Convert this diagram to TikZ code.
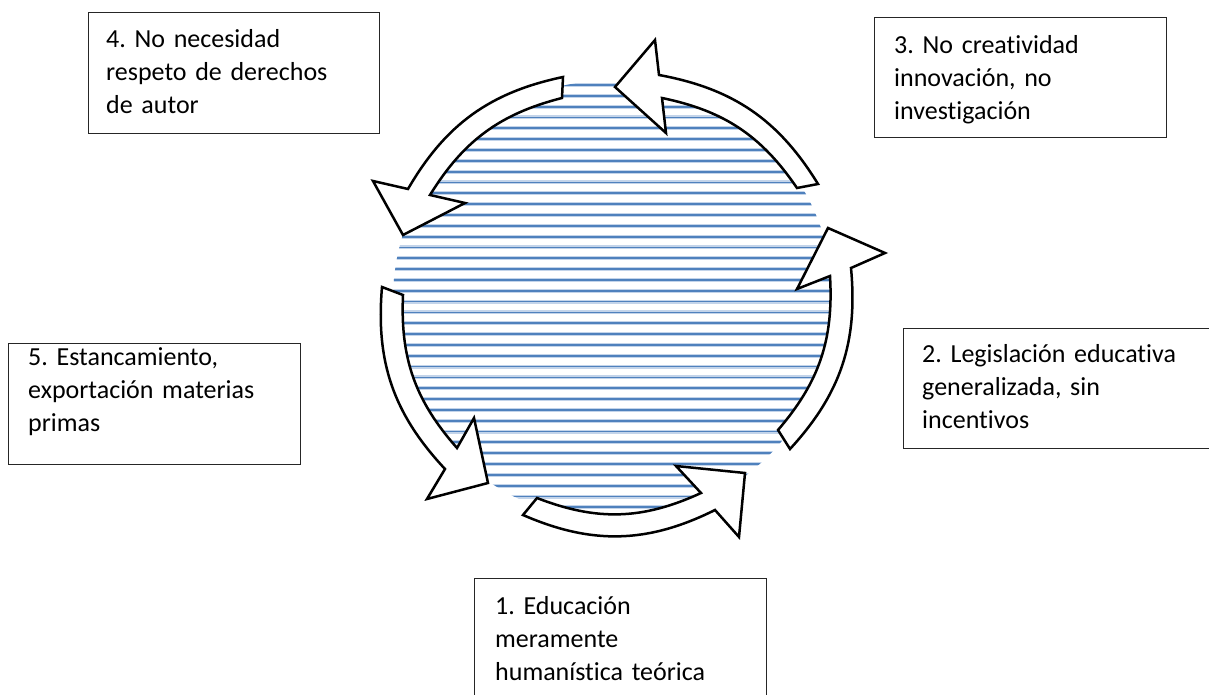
\documentclass[tikz,border=0pt]{standalone}
\usepackage{fontspec}
\setmainfont{Carlito}[Ligatures=NoCommon]
\usepackage{tikz}

\definecolor{stripeblue}{HTML}{4F81BD}
\definecolor{stripepale}{HTML}{C3D4EA}

\tikzset{
  stepbox/.style={draw=black!85, line width=1pt, minimum width=#1, minimum height=120pt, inner sep=0pt, anchor=north west},
  steptext/.style={anchor=base west, inner sep=0pt, text width=300pt, align=left, font=\fontsize{26}{33}\selectfont},
  cyclearrow/.style={draw=black, fill=white, line width=2.5pt, line join=miter},
}

\begin{document}
\frenchspacing
\begin{tikzpicture}[x=1pt, y=1pt]
  \useasboundingbox (0,0) rectangle (1209,694);
  \clip (0,0) rectangle (1209,694);

  % striped disc
  \begin{scope}
    \clip (613,394) circle (220);
    \foreach \k in {0,...,40} {
      \draw[stripepale, line width=4pt] (380,609-\k*10.83) -- (850,609-\k*10.83);
      \draw[stripeblue, line width=1.8pt] (380,609-\k*10.83) -- (850,609-\k*10.83);
    }
  \end{scope}

  % the five curved arrows
  \draw[cyclearrow] (818,510) to[bend right=24] (659,619) -- (655,654) -- (615,607) -- (666,561) -- (662,596) to[bend left=22] (797,506) -- cycle;
  \draw[cyclearrow] (563,617) to[bend right=24] (408,505) -- (373,513) -- (403,459) -- (465,491) -- (430,499) to[bend left=22] (562,596) -- cycle;
  \draw[cyclearrow] (382,407) to[bend right=24] (445,225) -- (427,195) -- (488,211) -- (474,276) -- (457,246) to[bend left=22] (403,399) -- cycle;
  \draw[cyclearrow] (523,179) to[bend right=25] (715,184) -- (739,157) -- (745,221) -- (676,228) -- (701,201) to[bend left=23] (537,196) -- cycle;
  \draw[cyclearrow] (790,245) to[bend right=24] (851,426) -- (885,441) -- (828,466) -- (797,405) -- (830,418) to[bend left=22] (778,264) -- cycle;

  % boxes
  \node[stepbox=291pt, minimum height=121pt] (box4) at (88,682) {};
  \node[stepbox=292pt] (box3) at (874,677) {};
  \node[stepbox=292pt, minimum height=121pt] (box5) at (8,351) {};
  \node[stepbox=330pt] (box2) at (903,366) {};
  \node[stepbox=292pt] (box1) at (474,116) {};

  \node[steptext] (txt4) at (106,646) {4. No necesidad\\respeto de derechos\\de autor};
  \node[steptext] (txt3) at (894,640) {3. No creatividad\\innovación, no\\investigación};
  \node[steptext] (txt5) at (28,328.5) {5. Estancamiento,\\exportación materias\\primas};
  \node[steptext] (txt2) at (922,331) {2. Legislación educativa\\generalizada, sin\\incentivos};
  \node[steptext] (txt1) at (495,80) {1. Educación\\meramente\\humanística teórica};
\end{tikzpicture}
\end{document}
